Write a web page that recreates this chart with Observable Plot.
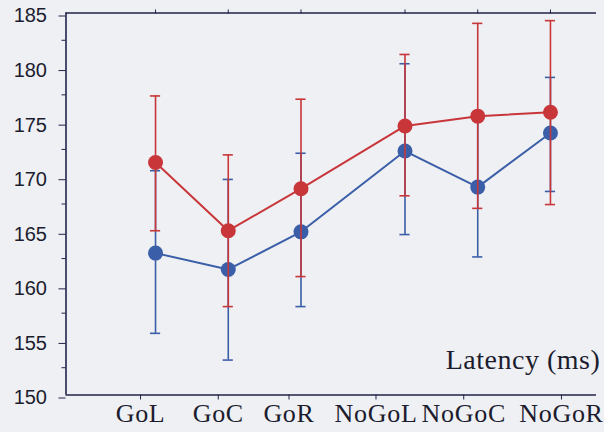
<!DOCTYPE html>
<html><head><meta charset="utf-8">
<script src="https://cdn.jsdelivr.net/npm/d3@7"></script>
<script src="https://cdn.jsdelivr.net/npm/@observablehq/plot@0.6"></script>
<style>
html,body{margin:0;padding:0;overflow:hidden;background:#eef0f3;}
#chart svg{display:block;}
#chart g[aria-label="x-axis tick label"] text{letter-spacing:0.7px;}
#chart g[aria-label="text"] text{letter-spacing:0.5px;}
</style>
</head><body><div id="chart"></div>
<script>
// ---- data ----
const categories = ["GoL","GoC","GoR","NoGoL","NoGoC","NoGoR"];
const redMean  = [171.3, 165.05, 168.9, 174.65, 175.55, 175.9];
const redLow   = [165.05, 158.1, 160.85, 168.25, 167.1, 167.45];
const redHigh  = [177.4, 172.0, 177.1, 181.2, 184.05, 184.3];
const blueMean = [163.0, 161.5, 164.95, 172.35, 169.05, 174.0];
const blueLow  = [155.65, 153.2, 158.1, 164.7, 162.65, 168.65];
const blueHigh = [170.55, 169.75, 172.15, 180.35, 175.4, 179.1];
const yTicks = [150,155,160,165,170,175,180,185];
const yMinorTicks = [152.5,157.5,162.5,167.5,172.5,177.5,182.5];
const axisTitle = "Latency (ms)";

// ---- layout (not data) ----
const GAP = 0.43; // extra spacing between Go and NoGo groups
const labelNudge = [-15, -10, -12, -29, -14, 11]; // horizontal nudge of each x tick label, px
const pos = (c, i) => i + (c.startsWith("NoGo") ? GAP : 0);
const positions = categories.map(pos);

function rows(mean, low, high) {
  return categories.map((c, i) => ({cat: c, pos: positions[i], mean: mean[i], low: low[i], high: high[i]}));
}
const blue = rows(blueMean, blueLow, blueHigh);
const red = rows(redMean, redLow, redHigh);

const BLUE = "#3b5ea8", RED = "#c8363a", AXIS = "#22224a", INK = "#1c1c2e";
const xDomain = [-1.231, 6.063];
const CAP = 0.07;
const SERIF = "Liberation Serif, Times New Roman, serif";

function seriesMarks(data, color) {
  return [
    Plot.ruleX(data, {x: "pos", y1: "low", y2: "high", stroke: color, strokeWidth: 1.6}),
    Plot.ruleY(data, {y: "high", x1: d => d.pos - CAP, x2: d => d.pos + CAP, stroke: color, strokeWidth: 1.6}),
    Plot.ruleY(data, {y: "low", x1: d => d.pos - CAP, x2: d => d.pos + CAP, stroke: color, strokeWidth: 1.6}),
    Plot.line(data, {x: "pos", y: "mean", stroke: color, strokeWidth: 2}),
    Plot.dot(data, {x: "pos", y: "mean", r: 7.5, fill: color, stroke: "none"})
  ];
}

const xLabelMarks = categories.map((c, i) =>
  Plot.axisX({ticks: [positions[i]], tickSize: 5, tickPadding: 4, tickFormat: () => c,
    fontSize: 26, fontFamily: SERIF, stroke: AXIS, fill: INK, dx: labelNudge[i], label: null}));

const chart = Plot.plot({
  width: 604,
  height: 432,
  marginLeft: 65.5,
  marginRight: 8,
  marginTop: 12.5,
  marginBottom: 37.5,
  style: {background: "#eef0f3", color: INK, overflow: "hidden"},
  x: {type: "linear", domain: xDomain, label: null},
  y: {domain: [150, 185], label: null},
  marks: [
    Plot.ruleY([150, 185], {stroke: AXIS, strokeWidth: 1.6}),
    Plot.ruleX([xDomain[0]], {stroke: AXIS, strokeWidth: 1.6}),
    Plot.axisY({ticks: yTicks, tickSize: 7, tickPadding: 12, fontSize: 20, fontFamily: "Liberation Sans, Arial, sans-serif", stroke: AXIS, fill: INK, dy: 3, label: null}),
    Plot.axisY({ticks: yMinorTicks, tickSize: 4, stroke: AXIS, tickFormat: () => "", label: null}),
    ...xLabelMarks,
    Plot.axisX({anchor: "top", ticks: positions, tickSize: 4, stroke: AXIS, tickFormat: () => "", label: null}),
    Plot.text([axisTitle], {frameAnchor: "bottom", dx: 114.5, dy: -26, textAnchor: "start", lineAnchor: "bottom", fontSize: 28, fontFamily: SERIF, fill: INK}),
    ...seriesMarks(blue, BLUE),
    ...seriesMarks(red, RED)
  ]
});
document.getElementById("chart").append(chart);
</script>
</body></html>
